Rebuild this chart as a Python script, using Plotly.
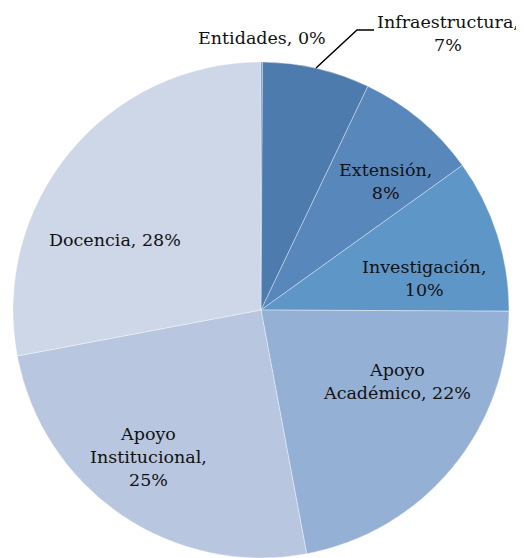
import plotly.graph_objects as go

# The page body has an 8px margin, so the figure is drawn 8px in from the window edge.
OFF = 8
W, H = 524 - OFF, 558 - OFF

categories = ["Entidades", "Infraestructura", "Extensión", "Investigación",
              "Apoyo Académico", "Apoyo Institucional", "Docencia"]
values = [0.1, 7, 8, 10, 22, 25, 28]
colors = ["#4A76A8", "#4E7BAE", "#5887BB", "#5F96C8", "#95B0D5", "#B8C6DF", "#CDD7E7"]

# display text (line-broken) for each category label
label_text = ["Entidades, {p}", "Infraestructura,<br>{p}", "Extensión,<br>{p}",
              "Investigación,<br>{p}", "Apoyo<br>Académico, {p}",
              "Apoyo<br>Institucional,<br>{p}", "Docencia, {p}"]
# label anchor positions in window pixels (centre)
label_pos = [(262, 38), (449, 34), (385, 181), (424, 278), (397, 381), (148, 457), (115, 240)]

total = sum(values)

def px(x):
    return (x - OFF) / W

def py(y):
    return 1 - (y - OFF) / H

fig = go.Figure(go.Pie(
    labels=categories,
    values=values,
    sort=False,
    direction="clockwise",
    rotation=0,
    marker=dict(colors=colors, line=dict(color="rgba(255,255,255,0.6)", width=0.6)),
    textinfo="none",
    hoverinfo="label+percent",
    showlegend=False,
    domain=dict(x=[px(12), px(510)], y=[0, py(62)]),
))

annotations = []
for i, (cat, v, t, (x, y)) in enumerate(zip(categories, values, label_text, label_pos)):
    pct = f"{round(v / total * 100):d}%"
    ann = dict(
        x=px(x), y=py(y), xref="paper", yref="paper",
        text=t.format(p=pct), showarrow=False, align="center",
        xanchor="center", yanchor="middle",
        font=dict(family="DejaVu Serif", size=17.5, color="#111111"),
    )
    if cat == "Infraestructura":
        ann["x"] = px(521)
        ann["xanchor"] = "right"
    annotations.append(ann)

fig.update_layout(
    width=W, height=H,
    margin=dict(l=0, r=0, t=0, b=0),
    paper_bgcolor="white",
    plot_bgcolor="white",
    annotations=annotations,
    shapes=[dict(type="path", xref="paper", yref="paper",
                 path=f"M {px(316)} {py(68)} L {px(357)} {py(30)} L {px(374)} {py(30)}",
                 line=dict(color="black", width=1.5))],
)

fig.write_html("out.html")
